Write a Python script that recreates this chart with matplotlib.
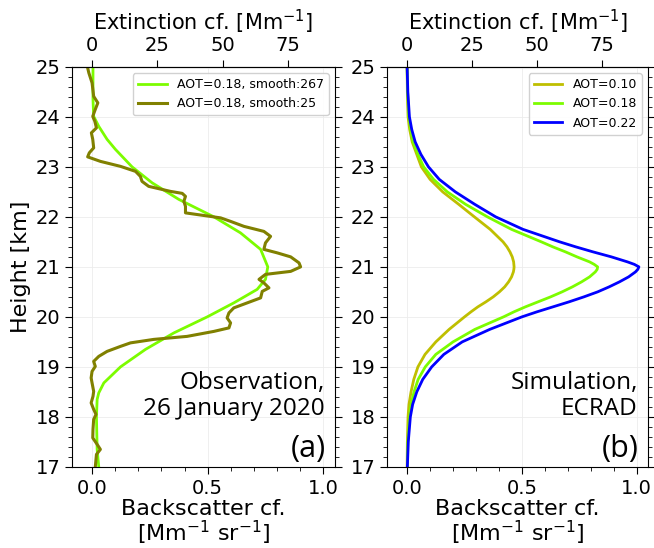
import numpy as np
import matplotlib.pyplot as plt
from matplotlib.ticker import MultipleLocator

# lidar ratio used for the extinction axis on top [sr]
LR = 88.5

# ---------------- observation (panel a) ----------------
obs_h_smooth = [25.0, 24.35, 24.01, 23.81, 23.55, 23.35, 23.0, 22.68, 22.35, 22.0,
                21.68, 21.35, 21.0, 20.75, 20.55, 20.28, 20.0, 19.68, 19.35, 19.0,
                18.68, 18.48, 18.35, 18.0, 17.35, 17.0]
obs_bsc_smooth = [0.004, 0.004, 0.007, 0.029, 0.065, 0.101, 0.173, 0.260, 0.375, 0.527,
                  0.642, 0.729, 0.760, 0.750, 0.714, 0.613, 0.498, 0.354, 0.231, 0.123,
                  0.051, 0.029, 0.022, 0.019, 0.022, 0.029]

obs_h_raw = [24.98, 24.88, 24.68, 24.41, 24.28, 24.15, 24.01, 23.91, 23.78, 23.68,
             23.55, 23.38, 23.28, 23.20, 23.11, 23.01, 22.91, 22.81, 22.71, 22.61,
             22.51, 22.47, 22.41, 22.31, 22.21, 22.08, 21.98, 21.91, 21.81, 21.71,
             21.61, 21.48, 21.35, 21.28, 21.20, 21.08, 21.00, 20.91, 20.85, 20.75,
             20.68, 20.58, 20.51, 20.38, 20.28, 20.18, 20.08, 19.98, 19.88, 19.78,
             19.71, 19.61, 19.55, 19.48, 19.41, 19.31, 19.21, 19.11, 19.01, 18.91,
             18.78, 18.68, 18.51, 18.41, 18.28, 18.15, 18.05, 17.95, 17.75, 17.58,
             17.45, 17.35, 17.25, 17.0]
obs_bsc_raw = [-0.019, -0.014, 0.000, 0.007, 0.025, 0.014, 0.003, 0.012, 0.019, -0.003,
               0.003, 0.007, -0.012, -0.019, 0.036, 0.123, 0.188, 0.209, 0.216, 0.245,
               0.339, 0.390, 0.404, 0.397, 0.404, 0.404, 0.556, 0.599, 0.657, 0.743,
               0.772, 0.750, 0.743, 0.801, 0.859, 0.895, 0.902, 0.859, 0.750, 0.722,
               0.743, 0.765, 0.736, 0.729, 0.671, 0.613, 0.592, 0.584, 0.599, 0.592,
               0.527, 0.411, 0.267, 0.166, 0.123, 0.065, 0.029, 0.007, 0.014, 0.000,
               -0.004, 0.000, 0.007, 0.004, -0.004, 0.007, 0.017, 0.007, 0.004, 0.003,
               0.022, 0.036, 0.019, 0.014]

# ---------------- simulation (panel b) ----------------
sim_h = [25.0, 24.5, 24.0, 23.75, 23.5, 23.25, 23.0, 22.75, 22.5, 22.25,
         22.0, 21.75, 21.5, 21.4, 21.3, 21.2, 21.1, 21.05, 21.0, 20.95,
         20.9, 20.8, 20.7, 20.6, 20.5, 20.4, 20.3, 20.2, 20.1, 20.0,
         19.75, 19.5, 19.25, 19.0, 18.75, 18.5, 18.25, 18.0, 17.5, 17.0]
sim_bsc_010 = [0.000, 0.001, 0.004, 0.011, 0.022, 0.042, 0.062, 0.100, 0.155, 0.225,
               0.293, 0.362, 0.418, 0.435, 0.448, 0.458, 0.464, 0.465, 0.466, 0.465,
               0.463, 0.455, 0.442, 0.425, 0.402, 0.375, 0.343, 0.308, 0.278, 0.250,
               0.183, 0.125, 0.078, 0.047, 0.029, 0.017, 0.008, 0.004, 0.001, 0.000]
sim_bsc_018 = [0.000, 0.002, 0.007, 0.015, 0.026, 0.047, 0.072, 0.115, 0.175, 0.255,
               0.350, 0.455, 0.585, 0.635, 0.690, 0.740, 0.795, 0.815, 0.830, 0.828,
               0.820, 0.795, 0.760, 0.720, 0.675, 0.625, 0.570, 0.515, 0.465, 0.420,
               0.295, 0.200, 0.125, 0.079, 0.048, 0.030, 0.017, 0.010, 0.003, 0.001]
sim_bsc_022 = [0.000, 0.003, 0.010, 0.020, 0.035, 0.060, 0.093, 0.140, 0.210, 0.295,
               0.386, 0.505, 0.665, 0.735, 0.810, 0.890, 0.960, 0.990, 1.010, 1.005,
               0.995, 0.965, 0.925, 0.880, 0.830, 0.770, 0.705, 0.635, 0.565, 0.500,
               0.360, 0.240, 0.160, 0.107, 0.068, 0.042, 0.024, 0.014, 0.005, 0.001]

fs = 16   # label fontsize
fst = 14  # tick fontsize

fig = plt.figure(figsize=(6.54, 5.48), dpi=100)
ax1 = fig.add_axes([0.110, 0.148, 0.402, 0.730])
ax2 = fig.add_axes([0.592, 0.148, 0.399, 0.730])

ax1.plot(obs_bsc_smooth, obs_h_smooth, color='#7cfc00', lw=2, label='AOT=0.18, smooth:267')
ax1.plot(obs_bsc_raw, obs_h_raw, color='#808000', lw=2.2, label='AOT=0.18, smooth:25')

ax2.plot(sim_bsc_010, sim_h, color='#bfbf00', lw=2, label='AOT=0.10')
ax2.plot(sim_bsc_018, sim_h, color='#7cfc00', lw=2, label='AOT=0.18')
ax2.plot(sim_bsc_022, sim_h, color='#0000ff', lw=2, label='AOT=0.22')

ax1.text(0.96, 0.115, 'Observation,\n26 January 2020', transform=ax1.transAxes,
         ha='right', va='bottom', fontsize=17.5, family='Open Sans', linespacing=1.1)
ax1.text(0.965, 0.008, '(a)', transform=ax1.transAxes, ha='right', va='bottom',
         fontsize=22, family='Open Sans')
ax2.text(0.96, 0.115, 'Simulation,\nECRAD', transform=ax2.transAxes,
         ha='right', va='bottom', fontsize=17.5, family='Open Sans', linespacing=1.1)
ax2.text(0.965, 0.008, '(b)', transform=ax2.transAxes, ha='right', va='bottom',
         fontsize=22, family='Open Sans')

for ax in (ax1, ax2):
    ax.set_xlim(-0.087, 1.05)
    ax.set_ylim(17, 25)
    ax.xaxis.set_major_locator(MultipleLocator(0.5))
    ax.xaxis.set_minor_locator(MultipleLocator(0.1))
    ax.yaxis.set_major_locator(MultipleLocator(1))
    ax.yaxis.set_minor_locator(MultipleLocator(0.2))
    ax.tick_params(which='both', right=True, labelsize=fst)
    ax.tick_params(which='major', length=5)
    ax.tick_params(which='minor', length=3)
    ax.grid(True, color='#ececec', lw=0.6)
    ax.set_xlabel('Backscatter cf.\n[Mm$^{-1}$ sr$^{-1}$]', fontsize=fs,
                  linespacing=1.0, labelpad=1)
    ax.legend(loc='upper right', fontsize=9, framealpha=0.9, handlelength=2.3)

    secax = ax.secondary_xaxis('top', functions=(lambda x: x * LR, lambda x: x / LR))
    secax.xaxis.set_major_locator(MultipleLocator(25))
    secax.tick_params(labelsize=fst, length=5)
    secax.set_xlabel('Extinction cf. [Mm$^{-1}$]', fontsize=15)

ax1.set_ylabel('Height [km]', fontsize=fs, labelpad=3)

fig.savefig('out.png', dpi=100)
